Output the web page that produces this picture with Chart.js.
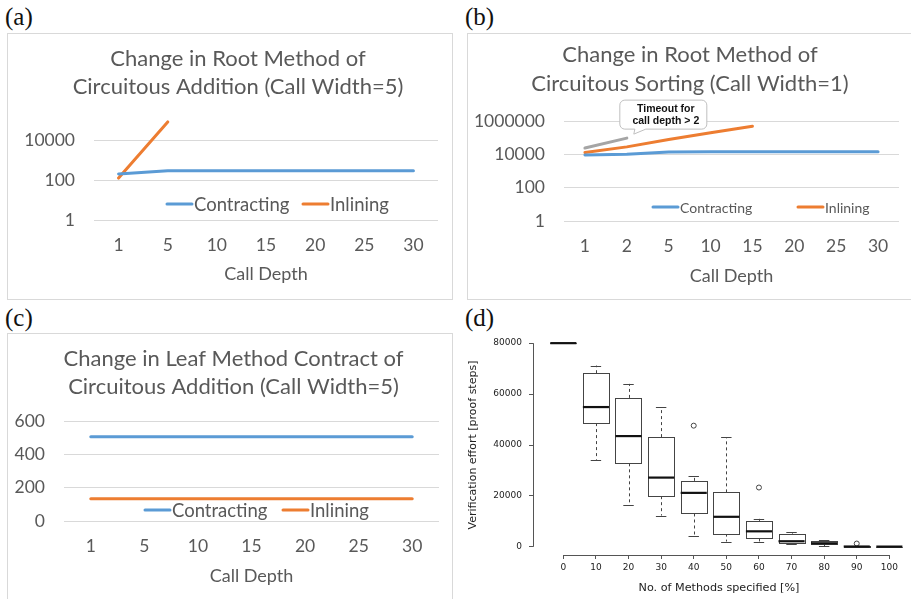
<!DOCTYPE html>
<html><head><meta charset="utf-8">
<script src="https://cdn.jsdelivr.net/npm/chart.js@4.4.1/dist/chart.umd.min.js"></script>
<style>
html,body{margin:0;padding:0;background:#fff}
body{width:911px;height:599px;position:relative;overflow:hidden}
.frame{position:absolute;border:1px solid #d9d9d9;box-sizing:border-box}
.lbl{position:absolute;font-family:"Liberation Serif",serif;font-size:25px;line-height:25px;color:#111}
canvas{position:absolute}
</style></head><body>
<div class="frame" style="left:7px;top:33px;width:446px;height:267px"></div>
<div class="frame" style="left:467px;top:33px;width:460px;height:267px"></div>
<div class="frame" style="left:7px;top:333px;width:446px;height:280px"></div>
<div class="lbl" style="left:5px;top:4px">(a)</div>
<div class="lbl" style="left:465px;top:4px">(b)</div>
<div class="lbl" style="left:5px;top:305px">(c)</div>
<div class="lbl" style="left:465px;top:305px">(d)</div>
<canvas id="ca" width="446" height="266" style="left:7px;top:33px"></canvas>
<canvas id="cb" width="444" height="266" style="left:467px;top:33px"></canvas>
<canvas id="cc" width="446" height="266" style="left:7px;top:333px"></canvas>
<canvas id="cd" width="456" height="299" style="left:455px;top:300px"></canvas>
<script>
// ---------- data ----------
const titleA = ['Change in Root Method of', 'Circuitous Addition (Call Width=5)'];
const titleB = ['Change in Root Method of', 'Circuitous Sorting (Call Width=1)'];
const titleC = ['Change in Leaf Method Contract of', 'Circuitous Addition (Call Width=5)'];
const xTitle = 'Call Depth';
const seriesNames = ['Contracting', 'Inlining'];

const depthA = ['1', '5', '10', '15', '20', '25', '30'];
const contractA = [200, 290, 290, 290, 290, 290, 290];
const inlineA = [125, 80000, null, null, null, null, null];
const yTicksA = [1, 100, 10000];

const depthB = ['1', '2', '5', '10', '15', '20', '25', '30'];
const contractB = [9100, 10000, 14000, 14300, 14300, 14300, 14300, 14300];
const inlineB = [13000, 28000, 78000, 195000, 490000, null, null, null];
const timeoutB = [23800, 94000, null, null, null, null, null, null];
const yTicksB = [1, 100, 10000, 1000000];
const calloutText = ['Timeout for', 'call depth > 2'];

const depthC = ['1', '5', '10', '15', '20', '25', '30'];
const contractC = [505, 505, 505, 505, 505, 505, 505];
const inlineC = [133, 133, 133, 133, 133, 133, 133];
const yTicksC = [0, 200, 400, 600];

const pctD = [0, 10, 20, 30, 40, 50, 60, 70, 80, 90, 100];
const lowD = [80000, 34200, 16500, 12300, 4400, 2100, 2100, 1000, 300, 0, 100];
const q1D = [80000, 48600, 32800, 19900, 13100, 5200, 3300, 1600, 1000, 0, 100];
const medD = [80000, 54900, 43500, 27200, 21200, 11800, 6100, 2200, 1400, 130, 100];
const q3D = [80000, 68200, 58500, 43100, 25900, 21400, 10200, 5200, 2200, 400, 100];
const highD = [80000, 71200, 64000, 54900, 27700, 43000, 11000, 5800, 2500, 400, 100];
const outXD = [40, 60, 90];
const outYD = [47600, 23300, 1300];
const yTicksD = [0, 20000, 40000, 60000, 80000];
const xTitleD = 'No. of Methods specified [%]';
const yTitleD = 'Verification effort [proof steps]';

// ---------- style ----------
const BLUE = '#5b9bd5', ORANGE = '#ed7d31', GRAY = '#a5a5a5', TXT = '#595959', GRID = '#d9d9d9';
const EXF = 'Lato';

// ---------- plugins ----------
const panelTitle = {
  id: 'panelTitle',
  afterDraw(chart, args, o) {
    const ctx = chart.ctx; ctx.save();
    ctx.font = o.font; ctx.fillStyle = TXT; ctx.textAlign = 'center'; ctx.textBaseline = 'alphabetic';
    o.lines.forEach((t, i) => ctx.fillText(t, o.x, o.y + i * o.lh));
    ctx.restore();
  }
};
const insideLegend = {
  id: 'insideLegend',
  afterDraw(chart, args, o) {
    const ctx = chart.ctx; ctx.save();
    ctx.font = o.font; ctx.textBaseline = 'middle'; ctx.textAlign = 'left'; ctx.fillStyle = TXT;
    o.items.forEach(it => {
      const ds = chart.data.datasets[it.index];
      ctx.strokeStyle = ds.borderColor; ctx.lineWidth = 3; ctx.lineCap = 'round';
      ctx.beginPath(); ctx.moveTo(it.x, o.y); ctx.lineTo(it.x + o.sample, o.y); ctx.stroke();
      ctx.fillText(ds.label, it.x + o.sample + o.gap, o.y + 1);
    });
    ctx.restore();
  }
};
const callout = {
  id: 'callout',
  afterDraw(chart, args, o) {
    const meta = chart.getDatasetMeta(o.dataset);
    const p = meta.data[o.index];
    if (!p) return;
    const ctx = chart.ctx; ctx.save();
    const L = p.x - 7, T = p.y - 38, W = 87, H = 29, r = 5;
    ctx.beginPath();
    ctx.moveTo(L + r, T);
    ctx.lineTo(L + W - r, T); ctx.arcTo(L + W, T, L + W, T + r, r);
    ctx.lineTo(L + W, T + H - r); ctx.arcTo(L + W, T + H, L + W - r, T + H, r);
    ctx.lineTo(L + 26, T + H);
    ctx.lineTo(L + 14, T + H + 5);
    ctx.lineTo(L + 15, T + H);
    ctx.lineTo(L + r, T + H); ctx.arcTo(L, T + H, L, T + H - r, r);
    ctx.lineTo(L, T + r); ctx.arcTo(L, T, L + r, T, r);
    ctx.closePath();
    ctx.fillStyle = '#fff'; ctx.fill();
    ctx.strokeStyle = '#bfbfbf'; ctx.lineWidth = 1; ctx.stroke();
    ctx.fillStyle = '#111'; ctx.font = 'bold 10.5px "Liberation Sans"';
    ctx.textAlign = 'center'; ctx.textBaseline = 'middle';
    ctx.fillText(o.lines[0], L + 46, T + 8.5);
    ctx.fillText(o.lines[1], L + 46, T + 20.5);
    ctx.restore();
  }
};
const boxPlot = {
  id: 'boxPlot',
  afterDatasetsDraw(chart) {
    const xs = chart.scales.x, ys = chart.scales.y, ctx = chart.ctx;
    const a = v => Math.round(v) + 0.5;
    ctx.save();
    ctx.strokeStyle = '#555'; ctx.lineWidth = 1;
    // R-style axis lines
    ctx.beginPath();
    ctx.moveTo(a(chart.chartArea.left), ys.getPixelForValue(yTicksD[0]));
    ctx.lineTo(a(chart.chartArea.left), ys.getPixelForValue(yTicksD[yTicksD.length - 1]));
    ctx.moveTo(xs.getPixelForValue(pctD[0]), a(chart.chartArea.bottom));
    ctx.lineTo(xs.getPixelForValue(pctD[pctD.length - 1]), a(chart.chartArea.bottom));
    ctx.stroke();
    const hw = xs.getPixelForValue(4) - xs.getPixelForValue(0);
    const cw = xs.getPixelForValue(1.6) - xs.getPixelForValue(0);
    pctD.forEach((p, i) => {
      const x = xs.getPixelForValue(p);
      const yl = ys.getPixelForValue(lowD[i]), y1 = ys.getPixelForValue(q1D[i]);
      const ym = ys.getPixelForValue(medD[i]), y3 = ys.getPixelForValue(q3D[i]);
      const yh = ys.getPixelForValue(highD[i]);
      ctx.strokeStyle = '#444'; ctx.lineWidth = 1;
      ctx.setLineDash([3, 3]);
      ctx.beginPath();
      ctx.moveTo(a(x), y3); ctx.lineTo(a(x), yh);
      ctx.moveTo(a(x), y1); ctx.lineTo(a(x), yl);
      ctx.stroke();
      ctx.setLineDash([]);
      ctx.beginPath();
      ctx.moveTo(x - cw, a(yh)); ctx.lineTo(x + cw, a(yh));
      ctx.moveTo(x - cw, a(yl)); ctx.lineTo(x + cw, a(yl));
      ctx.stroke();
      ctx.fillStyle = '#fff';
      const top = Math.round(y3) + 0.5, bot = Math.round(y1) + 0.5;
      ctx.fillRect(Math.round(x - hw) + 0.5, top, Math.round(2 * hw), bot - top);
      ctx.strokeRect(Math.round(x - hw) + 0.5, top, Math.round(2 * hw), bot - top);
      ctx.strokeStyle = '#111'; ctx.lineWidth = 2.2;
      ctx.beginPath(); ctx.moveTo(x - hw, ym); ctx.lineTo(x + hw, ym); ctx.stroke();
    });
    ctx.restore();
  }
};

// ---------- Excel-like panel builder ----------
function excelPanel(id, labels, datasets, y, lay) {
  return new Chart(document.getElementById(id), {
    type: 'line',
    data: {labels: labels, datasets: datasets.map(d => ({
      label: d.label, data: d.data, borderColor: d.color, backgroundColor: d.color,
      borderWidth: 3, pointRadius: 0, pointHoverRadius: 0, tension: 0, spanGaps: false,
      borderCapStyle: 'round', borderJoinStyle: 'round', fill: false
    }))},
    options: {
      responsive: false, animation: false, devicePixelRatio: 1,
      layout: {padding: {left: 0, right: lay.padR, top: lay.top, bottom: 0}},
      plugins: {
        legend: {display: false}, tooltip: {enabled: false}, title: {display: false},
        panelTitle: lay.title, insideLegend: lay.legend, callout: lay.callout || {}
      },
      scales: {
        x: {
          type: 'category', offset: true,
          grid: {display: false, drawTicks: false}, border: {display: false},
          ticks: {autoSkip: false, maxRotation: 0, padding: 15, color: TXT, font: {family: EXF, size: lay.tickSize}},
          title: {display: true, text: xTitle, color: TXT, font: {family: EXF, size: lay.xtSize}, padding: {top: 0, bottom: lay.xtPad}},
          afterFit: s => { s.height = lay.xh; }
        },
        y: Object.assign({
          bounds: 'data',
          grid: {color: GRID, lineWidth: 1, drawTicks: false}, border: {display: false},
          ticks: {padding: 19, color: TXT, font: {family: EXF, size: lay.tickSize}, callback: v => String(v)},
          afterBuildTicks: s => { s.ticks = y.ticks.map(v => ({value: v})); },
          afterFit: s => { s.width = lay.yw; }
        }, y.cfg)
      }
    },
    plugins: [panelTitle, insideLegend].concat(lay.callout ? [callout] : [])
  });
}

const TF = '22px Lato', LF = '18.5px Lato';

excelPanel('ca', depthA, [
  {label: seriesNames[0], data: contractA, color: BLUE},
  {label: seriesNames[1], data: inlineA, color: ORANGE}
], {ticks: yTicksA, cfg: {type: 'logarithmic', min: 1, max: 100000}}, {
  padR: 15, top: 87, yw: 87, xh: 79, xtPad: 14, tickSize: 17.5, xtSize: 18,
  title: {lines: titleA, x: 231, y: 33, lh: 28.3, font: TF},
  legend: {font: LF, y: 171, sample: 25, gap: 2, items: [{index: 0, x: 160}, {index: 1, x: 296}]}
});

excelPanel('cb', depthB, [
  {label: seriesNames[0], data: contractB, color: BLUE},
  {label: seriesNames[1], data: inlineB, color: ORANGE},
  {label: 'Timeout', data: timeoutB, color: GRAY}
], {ticks: yTicksB, cfg: {type: 'logarithmic', min: 1, max: 1000000}}, {
  padR: 12, top: 88, yw: 97, xh: 78, xtPad: 12, tickSize: 17.5, xtSize: 18,
  title: {lines: titleB, x: 223, y: 29.3, lh: 28.4, font: TF},
  legend: {font: '14px Lato', y: 174, sample: 25, gap: 2, items: [{index: 0, x: 186}, {index: 1, x: 331}]},
  callout: {dataset: 2, index: 1, lines: calloutText}
});

excelPanel('cc', depthC, [
  {label: seriesNames[0], data: contractC, color: BLUE},
  {label: seriesNames[1], data: inlineC, color: ORANGE}
], {ticks: yTicksC, cfg: {type: 'linear', min: 0, max: 600}}, {
  padR: 14, top: 88, yw: 57, xh: 78, xtPad: 12, tickSize: 17.5, xtSize: 18,
  title: {lines: titleC, x: 226.5, y: 33, lh: 28.3, font: TF},
  legend: {font: LF, y: 177, sample: 25, gap: 2, items: [{index: 0, x: 138}, {index: 1, x: 276}]}
});

// ---------- (d) boxplot ----------
const RF = '"DejaVu Sans"';
new Chart(document.getElementById('cd'), {
  type: 'scatter',
  data: {datasets: [{
    label: 'outliers',
    data: outXD.map((x, i) => ({x: x, y: outYD[i]})),
    pointStyle: 'circle', pointRadius: 2.5, pointHoverRadius: 2.5,
    borderColor: '#444', backgroundColor: 'rgba(0,0,0,0)', borderWidth: 1
  }]},
  options: {
    responsive: false, animation: false, devicePixelRatio: 1,
    layout: {padding: {left: 0, right: 6, top: 35, bottom: 0}},
    plugins: {legend: {display: false}, tooltip: {enabled: false}},
    scales: {
      x: {
        type: 'linear', min: -9.3, max: 104.8, bounds: 'data',
        grid: {drawOnChartArea: false, drawTicks: true, tickLength: 4, color: '#555'}, border: {display: false},
        ticks: {padding: 3.5, color: '#222', font: {family: RF, size: 9}, autoSkip: false, maxRotation: 0, callback: v => String(v)},
        afterBuildTicks: s => { s.ticks = pctD.map(v => ({value: v})); },
        title: {display: true, text: xTitleD, color: '#222', font: {family: RF, size: 11.2}, padding: {top: 0, bottom: 4.3}},
        afterFit: s => { s.height = 44; }
      },
      y: {
        type: 'linear', min: -3200, max: 83200, bounds: 'data',
        grid: {drawOnChartArea: false, drawTicks: true, tickLength: 4, color: '#555'}, border: {display: false},
        ticks: {padding: 7, color: '#222', font: {family: RF, size: 9}, callback: v => String(v)},
        afterBuildTicks: s => { s.ticks = yTicksD.map(v => ({value: v})); },
        title: {display: true, text: yTitleD, color: '#222', font: {family: RF, size: 11}, padding: {top: 11.4, bottom: 0}},
        afterFit: s => { s.width = 78; }
      }
    }
  },
  plugins: [boxPlot]
});
</script>
</body></html>
